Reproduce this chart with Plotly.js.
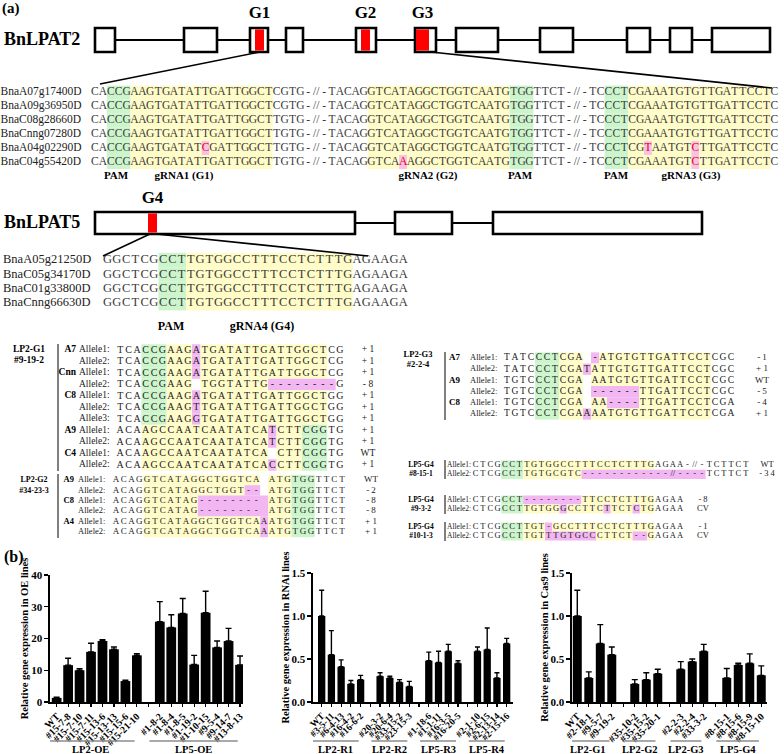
<!DOCTYPE html>
<html>
<head>
<meta charset="utf-8">
<script src="https://cdn.plot.ly/plotly-3.0.1.min.js"></script>
<style>
html,body{margin:0;padding:0;background:#fff;}
#fig{width:784px;height:754px;}
</style>
</head>
<body>
<div id="fig"></div>
<script>
// ======================= DATA =======================
// ---- (a) BnLPAT2 target alignment ----
const lpat2Genes = ['BnaA07g17400D','BnaA09g36950D','BnaC08g28660D','BnaCnng07280D','BnaA04g02290D','BnaC04g55420D'];
const lpat2Seqs = [
 'CACCGAAGTGATATTGATTGGCTCGTG-/-TACAGGTCATAGGCTGGTCAATGTGGTTCT-/-TCCCTCGAAATGTGTTGATTCCTC',
 'CACCGAAGTGATATTGATTGGCTCGTG-/-TACAGGTCATAGGCTGGTCAATGTGGTTCT-/-TCCCTCGAAATGTGTTGATTCCTC',
 'CACCGAAGTGATATTGATTGGCTTGTG-/-TACAGGTCATAGGCTGGTCAATGTGGTTCT-/-TCCCTCGAAATGTGTTGATTCCTC',
 'CACCGAAGTGATATTGATTGGCTTGTG-/-TACAGGTCATAGGCTGGTCAATGTGGTTCT-/-TCCCTCGAAATGTGTTGATTCCTC',
 'CACCGAAGTGATATCGATTGGCTTGTG-/-TACAGGTCATAGGCTGGTCAATGTGGTTCT-/-TCCCTCGTAATGTCTTGATTCCTC',
 'CACCGAAGTGATATTGATTGGCTTGTG-/-TACAGGTCAAAGGCTGGTCAATGTGGTTCT-/-TCCCTCGAAATGTCTTGATTCCTC'
];
// run-length highlight masks: .=none g=PAM(green) y=gRNA(yellow) p=indel(pink) r=SNP(pink, red letter)
const lpat2Marks = [
 '2.3g18y12.18y3g9.3g18y1.',
 '2.3g18y12.18y3g9.3g18y1.',
 '2.3g18y12.18y3g9.3g18y1.',
 '2.3g18y12.18y3g9.3g18y1.',
 '2.3g9y1r8y12.18y3g9.3g2y1r5y1r9y1.',
 '2.3g18y12.4y1r13y3g9.3g8y1r9y1.'
];
const lpat2SiteLabels = ['PAM','gRNA1 (G1)','gRNA2 (G2)','PAM','PAM','gRNA3 (G3)'];
const lpat2Targets = ['G1','G2','G3'];

// ---- (a) BnLPAT5 target alignment ----
const lpat5Genes = ['BnaA05g21250D','BnaC05g34170D','BnaC01g33800D','BnaCnng66630D'];
const lpat5Seqs = [
 'GGCTCGCCTTGTGGCCTTTCCTCTTTGAGAAGA',
 'GGCTCGCCTTGTGGCCTTTCCTCTTTGAGAAGA',
 'GGCTCGCCTTGTGGCCTTTCCTCTTTGAGAAGA',
 'GGCTCGCCTTGTGGCCTTTCCTCTTTGAGAAGA'
];
const lpat5Marks = ['6.3g18y6.','6.3g18y6.','6.3g18y6.','6.3g18y6.'];
const lpat5SiteLabels = ['PAM','gRNA4 (G4)'];
const lpat5Targets = ['G4'];

// ---- (a) mutation tables ----
const g1Line = ['LP2-G1','#9-19-2'];
const g1Genes = ['A7','','Cnn','','C8','','','A9','','C4',''];
const g1Alleles = ['Allele1:','Allele2:','Allele1:','Allele2:','Allele1:','Allele2:','Allele3:','Allele1:','Allele2:','Allele1:','Allele2:'];
const g1Seqs = [
 'TCACCGAAGATGATATTGATTGGCTCG',
 'TCACCGAAGATGATATTGATTGGCTCG',
 'TCACCGAAGATGATATTGATTGGCTCG',
 'TCACCGAAG TGGTATTG--------G',
 'TCACCGAAGATGATATTGATTGGCTGG',
 'TCACCGAAGTTGATATTGATTGGCTGG',
 'TCACCGAAGGTGATATTGATTGGCTGG',
 'ACAAGCCAATCAATATCATCTTCGGTG',
 'ACAAGCCAATCAATATCATCTTCGGTG',
 'ACAAGCCAATCAATATCA CTTCGGTG',
 'ACAAGCCAATCAATATCACCTTCGGTG'
];
const g1Marks = [
 '3.3g3y1p15y2.','3.3g3y1p15y2.','3.3g3y1p15y2.','3.3g3y1.8y8p1.',
 '3.3g3y1p15y2.','3.3g3y1p15y2.','3.3g3y1p15y2.',
 '3.15y1p3y3g2.','3.15y1p3y3g2.','3.15y1.3y3g2.','3.15y1p3y3g2.'
];
const g1Changes = ['+ 1','+ 1','+ 1','- 8','+ 1','+ 1','+ 1','+ 1','+ 1','WT','+ 1'];

const g2Line = ['LP2-G2','#34-23-3'];
const g2Genes = ['A9','','C8','','A4',''];
const g2Alleles = ['Allele1:','Allele2:','Allele1:','Allele2:','Allele1:','Allele2:'];
const g2Seqs = [
 'ACAGGTCATAGGCTGGTCA ATGTGGTTCT',
 'ACAGGTCATAGGCTGGT-- ATGTGGTTCT',
 'ACAGGTCATAG-------- ATGTGGTTCT',
 'ACAGGTCATAG-------- ATGTGGTTCT',
 'ACAGGTCATAGGCTGGTCAAATGTGGTTCT',
 'ACAGGTCATAGGCTGGTCAAATGTGGTTCT'
];
const g2Marks = ['4.15y1.3y3g4.','4.13y2p1.3y3g4.','4.7y9p3y3g4.','4.7y9p3y3g4.','4.15y1p3y3g4.','4.15y1p3y3g4.'];
const g2Changes = ['WT','- 2','- 8','- 8','+ 1','+ 1'];

const g3Line = ['LP2-G3','#2-2-4'];
const g3Genes = ['A7','','A9','','C8',''];
const g3Alleles = ['Allele1:','Allele2:','Allele1:','Allele2:','Allele1:','Allele2:'];
const g3Seqs = [
 'TATCCCTCGA -ATGTGTTGATTCCTCGC',
 'TATCCCTCGATATTGTGTTGATTCCTCGC',
 'TGTCCCTCGA AATGTGTTGATTCCTCGC',
 'TGTCCCTCGA ------TTGATTCCTCGC',
 'TGTCCCTCGA AA----TTGATTCCTCGA',
 'TGTCCCTCGAAAATGTGTTGATTCCTCGA'
];
const g3Marks = ['4.3g3y1.1p14y3.','4.3g3y1p15y3.','4.3g3y1.15y3.','4.3g3y1.6p9y3.','4.3g3y1.2y4p9y3.','4.3g3y1p15y3.'];
const g3Changes = ['- 1','+ 1','WT','- 5','- 4','+ 1'];

const g4Lines = [['LP5-G4','#8-15-1'],['LP5-G4','#9-3-2'],['LP5-G4','#10-1-3']];
const g4Alleles = ['Allele1:','Allele2:'];
const g4aSeqs = ['CTCGCCTTGTGGCCTTTCCTCTTTGAGAA-/-TCTTCT','CTCGCCTTGTGCGTC------------/----TCTTCT'];
const g4aMarks = ['4.3g18y13.','4.3g8y17p6.'];
const g4aChanges = ['WT','- 3 4'];
const g4bSeqs = ['CTCGCCT--------TTCCTCTTTGAGAA','CTCGCCTTGTGGGCCTTCTTCTCTGAGAA'];
const g4bMarks = ['4.3g8p10y4.','4.3g5y1p5y1p3y1p2y4.'];
const g4bChanges = ['- 8','CV'];
const g4cSeqs = ['CTCGCCTTGT-GCCTTTCCTCTTTGAGAA','CTCGCCTTGTTTGTGCCCTTCT--GAGAA'];
const g4cMarks = ['4.3g3y1p14y4.','4.3g3y7p5y2p1y4.'];
const g4cChanges = ['- 1','CV'];

// ---- (b) relative expression ----
const oeGroupNames = ['LP2-OE','LP5-OE'];
const oeGroupSizes = [8, 8];
const oeLabels = ['WT','#15-7-8','#15-7-10','#15-7-11','#15-13-6','#15-13-13','#15-15-6','#15-21-10','#1-8-2','#1-8-4','#1-8-5','#1-19-2','#1-10-15','#9-5-4','#9-14-7','#13-8-13'];
const oeMeans = [1.3, 11.6, 10.0, 15.8, 19.2, 16.6, 6.6, 14.7, 25.3, 23.5, 27.9, 11.8, 28.1, 17.2, 19.2, 11.7];
const oeErr   = [0.2, 2.2, 0.5, 2.7, 0.4, 0.7, 0.3, 0.5, 6.3, 4.0, 4.7, 2.9, 6.8, 2.0, 4.0, 2.8];

const rnaiGroupNames = ['LP2-R1','LP2-R2','LP5-R3','LP5-R4'];
const rnaiGroupSizes = [5, 4, 4, 4];
const rnaiLabels = ['WT','#3-5-11','#6-4-13','#16-4-2','#16-6-2','#20-3-2','#20-6-4','#33-15-2','#23-15-3','#1-18-6','#1-1-11','#16-3-5','#16-20-5','#2-1-10','#2-6-15','#2-13-14','#2-15-16'];
const rnaiMeans = [1.00, 0.55, 0.41, 0.21, 0.26, 0.30, 0.28, 0.23, 0.18, 0.48, 0.46, 0.59, 0.45, 0.59, 0.61, 0.28, 0.68];
const rnaiErr   = [0.30, 0.28, 0.08, 0.04, 0.05, 0.04, 0.02, 0.03, 0.06, 0.10, 0.13, 0.08, 0.03, 0.05, 0.25, 0.06, 0.06];

const cas9GroupNames = ['LP2-G1','LP2-G2','LP2-G3','LP5-G4'];
const cas9GroupSizes = [4, 3, 3, 4];
const cas9Labels = ['WT','#2-18-1','#9-5-7','#9-19-2','#35-10-2','#35-15-2','#35-20-1','#2-2-3','#2-2-4','#33-3-2','#8-15-1','#8-15-6','#8-15-9','#8-15-10'];
const cas9Means = [1.00, 0.28, 0.68, 0.55, 0.21, 0.26, 0.33, 0.38, 0.47, 0.59, 0.28, 0.43, 0.45, 0.31];
const cas9Err   = [0.30, 0.07, 0.22, 0.09, 0.05, 0.08, 0.05, 0.09, 0.03, 0.08, 0.11, 0.02, 0.11, 0.11];

// ======================= LAYOUT / STYLE =======================
const W = 784, H = 754;
const FONT = '"Liberation Serif", "Times New Roman", Times, serif';
const HL = {g:'#ccf5cc', y:'#fffcc8', p:'#f2b6f2', r:'#f9c2e2'};
const RED = '#e3001b';

const GENE2 = {y:40, top:28, bot:52, line:[115,712],
  exons:[[95,115],[184,217],[250,268],[286,303],[356,376],[415,436],[456,498],[540,573],[627,650],[670,692],[712,770]],
  marks:[[255,264],[361,370],[416,429]], labelY:14};
const GENE5 = {y:223, top:212, bot:234, line:[355,493],
  exons:[[95,355],[395,452],[493,702]], marks:[[148,157]], labelY:199};

const SB = {
  lpat2:{x0:91,  p:7.9,  y0:92.5, dy:13.9, fs:11.5, color:'#3a3a3a'},
  lpat5:{x0:103, p:9.24, y0:260,  dy:14.4, fs:12.5, color:'#3a3a3a'},
  g1:   {x0:116, p:8.45, y0:350,  dy:11.5, fs:10,   color:'#222'},
  g2:   {x0:112, p:7.8,  y0:480,  dy:10.4, fs:9,    color:'#222'},
  g3:   {x0:503, p:8.0,  y0:358,  dy:11.2, fs:9.5,  color:'#222'},
  g4a:  {x0:472, p:7.3,  y0:465,  dy:9.3,  fs:8.5,  color:'#222'},
  g4b:  {x0:472, p:7.3,  y0:500,  dy:9,    fs:8.5,  color:'#222'},
  g4c:  {x0:472, p:7.3,  y0:527,  dy:9,    fs:8.5,  color:'#222'}
};
const TB = {
  g1: {lineX:29,  lineY:[350,361], lineFs:9.5, barX:58,  barY:[344,471], geneX:76,  alleleX:79,  labFs:9.5, geneFs:9.5, valX:368, valFs:9.5},
  g2: {lineX:34,  lineY:[480,491], lineFs:8,   barX:58,  barY:[474,538], geneX:74,  alleleX:78,  labFs:8.5, geneFs:8.5, valX:371, valFs:9},
  g3: {lineX:418, lineY:[355,365], lineFs:8.5, barX:445, barY:[352,420], geneX:460, alleleX:470, labFs:8.5, geneFs:9,   valX:762, valFs:9},
  g4a:{lineX:421, lineY:[465,474], lineFs:7.5, barX:445, barY:[460,479], geneX:0,   alleleX:447, labFs:7.5, geneFs:8,   valX:767, valFs:8.5},
  g4b:{lineX:421, lineY:[500,509], lineFs:7.5, barX:445, barY:[495,514], geneX:0,   alleleX:447, labFs:7.5, geneFs:8,   valX:703, valFs:8.5},
  g4c:{lineX:421, lineY:[527,536], lineFs:7.5, barX:445, barY:[522,541], geneX:0,   alleleX:447, labFs:7.5, geneFs:8,   valX:703, valFs:8.5}
};

// ======================= BUILD =======================
const traces = [], shapes = [], annotations = [];

function runs(mask){
  const out = []; const re = /(\d+)([.gypr])/g; let m, i = 0;
  while ((m = re.exec(mask))) { const n = +m[1]; out.push([i, i + n, m[2]]); i += n; }
  return out;
}
function expand(mask){ let s=''; runs(mask).forEach(([a,b,c])=>{ s += c.repeat(b-a); }); return s; }

function text(items, size, bold, color){
  const pm = {L:'middle right', R:'middle left', C:'middle center'};
  traces.push({type:'scatter', mode:'text', xaxis:'x4', yaxis:'y4',
    x:items.map(d=>d[0]), y:items.map(d=>d[1]), text:items.map(d=>d[2]),
    textposition:items.map(d=>pm[d[3]||'C']),
    textfont:{family:FONT, size:size, color:color||'#000', weight:bold?'bold':'normal'},
    hoverinfo:'skip', showlegend:false, cliponaxis:false});
}
function rect(x0,y0,x1,y1,fill,lw,layer){
  shapes.push({type:'rect', xref:'x4', yref:'y4', x0:x0, y0:y0, x1:x1, y1:y1,
    fillcolor:fill, line:{width:lw||0, color:'#000'}, layer:layer||'above'});
}
function seg(x0,y0,x1,y1,w,c){
  shapes.push({type:'line', xref:'x4', yref:'y4', x0:x0, y0:y0, x1:x1, y1:y1, line:{width:w, color:c||'#000'}});
}

function seqBlock(g, seqs, marks){
  const xs=[], ys=[], ts=[], cs=[];
  seqs.forEach((s, r) => {
    const y = g.y0 + r * g.dy;
    const mk = expand(marks[r]);
    runs(marks[r]).forEach(([a,b,c]) => {
      if (c === '.') return;
      rect(g.x0 + a*g.p, y - g.dy/2, g.x0 + b*g.p, y + g.dy/2, HL[c], 0, 'below');
    });
    for (let i = 0; i < s.length; i++) {
      const ch = s[i]; if (ch === ' ') continue;
      xs.push(g.x0 + (i + 0.5) * g.p); ys.push(y);
      ts.push(ch === '/' ? '//' : ch);
      cs.push(mk[i] === 'r' ? RED : g.color);
    }
  });
  traces.push({type:'scatter', mode:'text', xaxis:'x4', yaxis:'y4', x:xs, y:ys, text:ts,
    textposition:'middle center',
    textfont:{family:FONT, size:g.fs, color:cs, weight:'normal'},
    hoverinfo:'skip', showlegend:false, cliponaxis:false});
}

function geneModel(G, name, targets){
  seg(G.line[0], G.y, G.line[1], G.y, 2.2);
  G.exons.forEach(e => rect(e[0], G.top, e[1], G.bot, '#fff', 2.6));
  G.marks.forEach(m => rect(m[0], G.top + 1.4, m[1], G.bot - 1.4, '#ff0000', 0));
  text([[4, G.y, name, 'L']], 18, true);
  text(G.marks.map((m,k) => [(m[0]+m[1])/2, G.labelY, targets[k], 'C']), 17, true);
}

function table(t, g, genes, alleles, seqs, marks, changes, lineNames){
  seqBlock(g, seqs, marks);
  const al = [], vals = [], gn = [];
  seqs.forEach((s, r) => {
    const y = g.y0 + r * g.dy;
    al.push([t.alleleX, y, alleles[r], 'L']);
    vals.push([t.valX, y, changes[r], 'C']);
    if (genes && genes[r]) gn.push([t.geneX, y, genes[r], 'R']);
  });
  text(al, t.labFs, false, '#222');
  text(vals, t.valFs, false, '#222');
  if (gn.length) text(gn, t.geneFs, true);
  text([[t.lineX, t.lineY[0], lineNames[0], 'C'], [t.lineX, t.lineY[1], lineNames[1], 'C']], t.lineFs, true);
  seg(t.barX, t.barY[0], t.barX, t.barY[1], 1.5, '#555');
}

// ---- panel (a) ----
text([[2, 9, '(a)', 'L']], 15, true);
geneModel(GENE2, 'BnLPAT2', lpat2Targets);
seg(259.5, 52, 100, 84, 1.6);
seg(431, 52, 772, 88, 1.6);
seqBlock(SB.lpat2, lpat2Seqs, lpat2Marks);
text(lpat2Genes.map((n,r) => [0.5, SB.lpat2.y0 + r*SB.lpat2.dy, n, 'L']), 11.5, false, '#222');
const lpat2SiteX = [116, 184, 428, 520, 616, 691];
text(lpat2SiteLabels.map((s,k) => [lpat2SiteX[k], 176, s, 'C']), 11, true);

geneModel(GENE5, 'BnLPAT5', lpat5Targets);
seg(150, 234, 103, 256, 1.6);
seg(156, 234, 368, 256, 1.6);
seqBlock(SB.lpat5, lpat5Seqs, lpat5Marks);
text(lpat5Genes.map((n,r) => [3, SB.lpat5.y0 + r*SB.lpat5.dy, n, 'L']), 12.5, false, '#222');
const lpat5SiteX = [171, 262];
text(lpat5SiteLabels.map((s,k) => [lpat5SiteX[k], 327, s, 'C']), 12, true);

table(TB.g1, SB.g1, g1Genes, g1Alleles, g1Seqs, g1Marks, g1Changes, g1Line);
table(TB.g2, SB.g2, g2Genes, g2Alleles, g2Seqs, g2Marks, g2Changes, g2Line);
table(TB.g3, SB.g3, g3Genes, g3Alleles, g3Seqs, g3Marks, g3Changes, g3Line);
table(TB.g4a, SB.g4a, null, g4Alleles, g4aSeqs, g4aMarks, g4aChanges, g4Lines[0]);
table(TB.g4b, SB.g4b, null, g4Alleles, g4bSeqs, g4bMarks, g4bChanges, g4Lines[1]);
table(TB.g4c, SB.g4c, null, g4Alleles, g4cSeqs, g4cMarks, g4cChanges, g4Lines[2]);

// ---- panel (b) ----
const layout = {
  width: W, height: H, margin:{l:0, r:0, t:0, b:0},
  paper_bgcolor:'#fff', plot_bgcolor:'rgba(0,0,0,0)', showlegend:false,
  font:{family:FONT, color:'#000'},
  xaxis4:{domain:[0,1], range:[0,W], visible:false, fixedrange:true, anchor:'y4'},
  yaxis4:{domain:[0,1], range:[H,0], visible:false, fixedrange:true, anchor:'x4'}
};

function slots(sizes){
  const pos = []; let p = 0;
  sizes.forEach((n, gi) => { if (gi > 0) p += 1; for (let k = 0; k < n; k++) { pos.push(p); p++; } });
  return pos;
}

function barChart(idx, labels, means, errs, sizes, names, o){
  const pos = slots(sizes);
  const xa = idx === 1 ? 'x' : 'x' + idx, ya = idx === 1 ? 'y' : 'y' + idx;
  const xk = idx === 1 ? 'xaxis' : 'xaxis' + idx, yk = idx === 1 ? 'yaxis' : 'yaxis' + idx;
  traces.push({type:'bar', x:pos, y:means, width:o.bw, xaxis:xa, yaxis:ya,
    marker:{color:'#000', line:{width:0}},
    error_y:{type:'data', array:errs, arrayminus:errs.map(()=>0), symmetric:false,
             color:'#000', thickness:1.4, width:o.cap},
    hoverinfo:'skip', showlegend:false});
  const maxPos = pos[pos.length - 1];
  const tv = [], tt = [];
  for (let k = 0; k <= maxPos; k++) { tv.push(k); const j = pos.indexOf(k); tt.push(j >= 0 ? labels[j] : ''); }
  layout[xk] = {domain:[o.px[0]/W, o.px[1]/W], range:o.xr, anchor:ya,
    tickmode:'array', tickvals:tv, ticktext:tt, tickangle:-45,
    ticks:'outside', ticklen:3, tickwidth:1.2, tickcolor:'#000',
    showline:true, linecolor:'#000', linewidth:1.6, showgrid:false, zeroline:false,
    tickfont:{family:FONT, size:o.tfs, color:'#000', weight:'bold'}, fixedrange:true, automargin:false};
  layout[yk] = {domain:[1 - o.py[1]/H, 1 - o.py[0]/H], range:o.yr, anchor:xa,
    tickmode:'array', tickvals:o.ytv, ticktext:o.ytt,
    ticks:'outside', ticklen:4, tickwidth:1.4, tickcolor:'#000',
    showline:true, linecolor:'#000', linewidth:1.6, showgrid:false, zeroline:false,
    tickfont:{family:FONT, size:11, color:'#000', weight:'bold'},
    title:{text:o.title, font:{family:FONT, size:10.5, color:'#000', weight:'bold'}, standoff:0},
    fixedrange:true, automargin:false};
  let start = 0;
  sizes.forEach((n, gi) => {
    const a = pos[start] - 0.9, b = pos[start + n - 1] - 0.2;
    shapes.push({type:'line', xref:xa, yref:'paper', x0:a, x1:b, y0:1 - 741/H, y1:1 - 741/H,
      line:{color:'#8c8c8c', width:1.5}});
    annotations.push({xref:xa, yref:'paper', x:(a + b)/2, y:1 - 749/H, text:names[gi], showarrow:false,
      xanchor:'center', yanchor:'middle', font:{family:FONT, size:10.5, color:'#000', weight:'bold'}});
    start += n;
  });
}

barChart(1, oeLabels, oeMeans, oeErr, oeGroupSizes, oeGroupNames,
  {px:[50,243], xr:[-0.58,16.26], py:[575,702], yr:[0,40], ytv:[0,10,20,30,40], ytt:['0','10','20','30','40'],
   bw:0.85, cap:3, tfs:10, title:'Relative gene expression in OE lines'});
barChart(2, rnaiLabels, rnaiMeans, rnaiErr, rnaiGroupSizes, rnaiGroupNames,
  {px:[313,513], xr:[-0.89,19.65], py:[573,702], yr:[0,1.5], ytv:[0,0.5,1,1.5], ytt:['0.0','0.5','1.0','1.5'],
   bw:0.75, cap:2.5, tfs:9.5, title:'Relative gene expression in RNAi lines'});
barChart(3, cas9Labels, cas9Means, cas9Err, cas9GroupSizes, cas9GroupNames,
  {px:[572,767], xr:[-0.46,16.5], py:[573,702], yr:[0,1.5], ytv:[0,0.5,1,1.5], ytt:['0.0','0.5','1.0','1.5'],
   bw:0.78, cap:3, tfs:10, title:'Relative gene expression in Cas9 lines'});

annotations.push({xref:'paper', yref:'paper', x:2/W, y:1 - 557/H, text:'(b)', showarrow:false,
  xanchor:'left', yanchor:'middle', font:{family:FONT, size:16, color:'#000', weight:'bold'}});

layout.shapes = shapes;
layout.annotations = annotations;

Plotly.newPlot('fig', traces, layout, {staticPlot:true, displayModeBar:false});
</script>
</body>
</html>
